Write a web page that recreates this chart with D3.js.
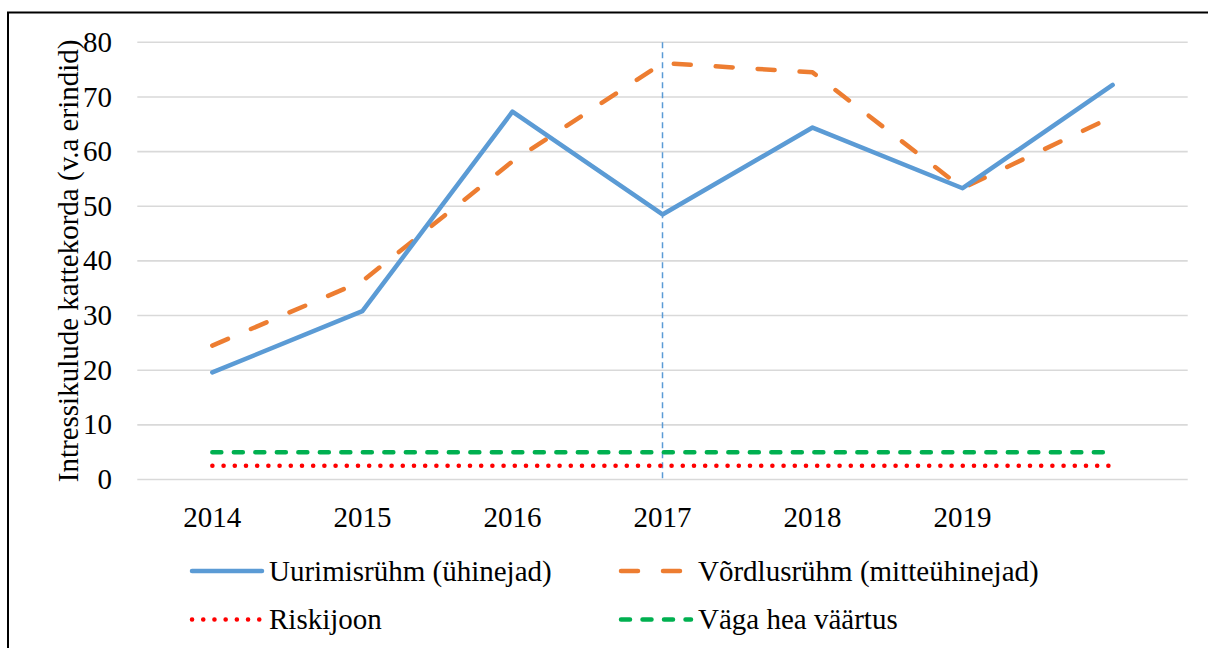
<!DOCTYPE html>
<html>
<head>
<meta charset="utf-8">
<script src="https://cdn.jsdelivr.net/npm/d3@7"></script>
<style>
  body { margin: 0; background: #fff; }
  svg text { font-family: "Liberation Serif", "Times New Roman", serif; fill: #000; }
</style>
</head>
<body>
<div id="chart"></div>
<script>
// categories (7th point has no label)
const years = ["2014", "2015", "2016", "2017", "2018", "2019", ""];
const uurimis = [19.6, 30.8, 67.3, 48.5, 64.4, 53.3, 72.2];
const vordlus = [24.5, 36.3, 58.2, 76.2, 74.5, 53.3, 66.4];
const riskijoon = [2.5, 2.5, 2.5, 2.5, 2.5, 2.5, 2.5];
const vagaHea = [5, 5, 5, 5, 5, 5, 5];
const yTicks = [0, 10, 20, 30, 40, 50, 60, 70, 80];
const markerYear = "2017";

const series = [
  { name: "Uurimisrühm (ühinejad)", values: uurimis, color: "#5b9bd5", dash: null, cap: "round" },
  { name: "Võrdlusrühm (mitteühinejad)", values: vordlus, color: "#ed7d31", dash: "17,25", cap: "round" },
  { name: "Riskijoon", values: riskijoon, color: "#ff0000", dash: "0.1,11.1", cap: "round" },
  { name: "Väga hea väärtus", values: vagaHea, color: "#00b050", dash: "9,12.5", cap: "round" }
];

const W = 1208, H = 648;
const svg = d3.select("#chart").append("svg")
  .attr("width", W).attr("height", H);

// outer frame
svg.append("rect")
  .attr("x", 8).attr("y", 12.5)
  .attr("width", W + 10).attr("height", H + 10)
  .attr("fill", "none").attr("stroke", "#000").attr("stroke-width", 2);

const plot = { left: 137.3, right: 1187.7, top: 42.3, bottom: 479.5 };

const x = d3.scalePoint()
  .domain(d3.range(years.length))
  .range([plot.left, plot.right])
  .padding(0.5);

const y = d3.scaleLinear()
  .domain([0, 80])
  .range([plot.bottom, plot.top]);

// gridlines
svg.append("g").selectAll("line")
  .data(yTicks)
  .join("line")
  .attr("x1", plot.left).attr("x2", plot.right)
  .attr("y1", d => y(d)).attr("y2", d => y(d))
  .attr("stroke", "#d9d9d9").attr("stroke-width", 1.6);

// y tick labels
svg.append("g").selectAll("text")
  .data(yTicks)
  .join("text")
  .attr("x", 112)
  .attr("y", d => y(d))
  .attr("dy", "0.33em")
  .attr("text-anchor", "end")
  .style("font-size", "29px")
  .text(d => d);

// x tick labels
svg.append("g").selectAll("text")
  .data(years)
  .join("text")
  .attr("x", (d, i) => x(i))
  .attr("y", 527)
  .attr("text-anchor", "middle")
  .style("font-size", "29px")
  .text(d => d);

// y axis title
svg.append("text")
  .attr("transform", `translate(78,${(plot.top + plot.bottom) / 2}) rotate(-90)`)
  .attr("text-anchor", "middle")
  .style("font-size", "29px")
  .text("Intressikulude kattekorda (v.a erindid)");

// vertical marker
const mx = x(years.indexOf(markerYear));
svg.append("line")
  .attr("x1", mx).attr("x2", mx)
  .attr("y1", plot.top).attr("y2", plot.bottom)
  .attr("stroke", "#5b9bd5").attr("stroke-width", 1.5)
  .attr("stroke-dasharray", "6,4");

const line = d3.line()
  .x((d, i) => x(i))
  .y(d => y(d));

// draw reference lines first, then groups
[series[2], series[3], series[1], series[0]].forEach(s => {
  svg.append("path")
    .datum(s.values)
    .attr("d", line)
    .attr("fill", "none")
    .attr("stroke", s.color)
    .attr("stroke-width", 4.5)
    .attr("stroke-linejoin", "round")
    .attr("stroke-linecap", s.cap)
    .attr("stroke-dasharray", s.dash);
});

// legend
const legendPos = [
  { x: 192, y: 571 },
  { x: 621, y: 571 },
  { x: 192, y: 619.5 },
  { x: 621, y: 619.5 }
];
const legend = svg.append("g").selectAll("g")
  .data(series)
  .join("g")
  .attr("transform", (d, i) => `translate(${legendPos[i].x},${legendPos[i].y})`);

legend.append("line")
  .attr("x1", 0).attr("x2", 70)
  .attr("stroke", d => d.color)
  .attr("stroke-width", 4.5)
  .attr("stroke-linecap", "round")
  .attr("stroke-dasharray", d => d.dash);

legend.append("text")
  .attr("x", 77)
  .attr("dy", "0.33em")
  .style("font-size", "29px")
  .text(d => d.name);
</script>
</body>
</html>
